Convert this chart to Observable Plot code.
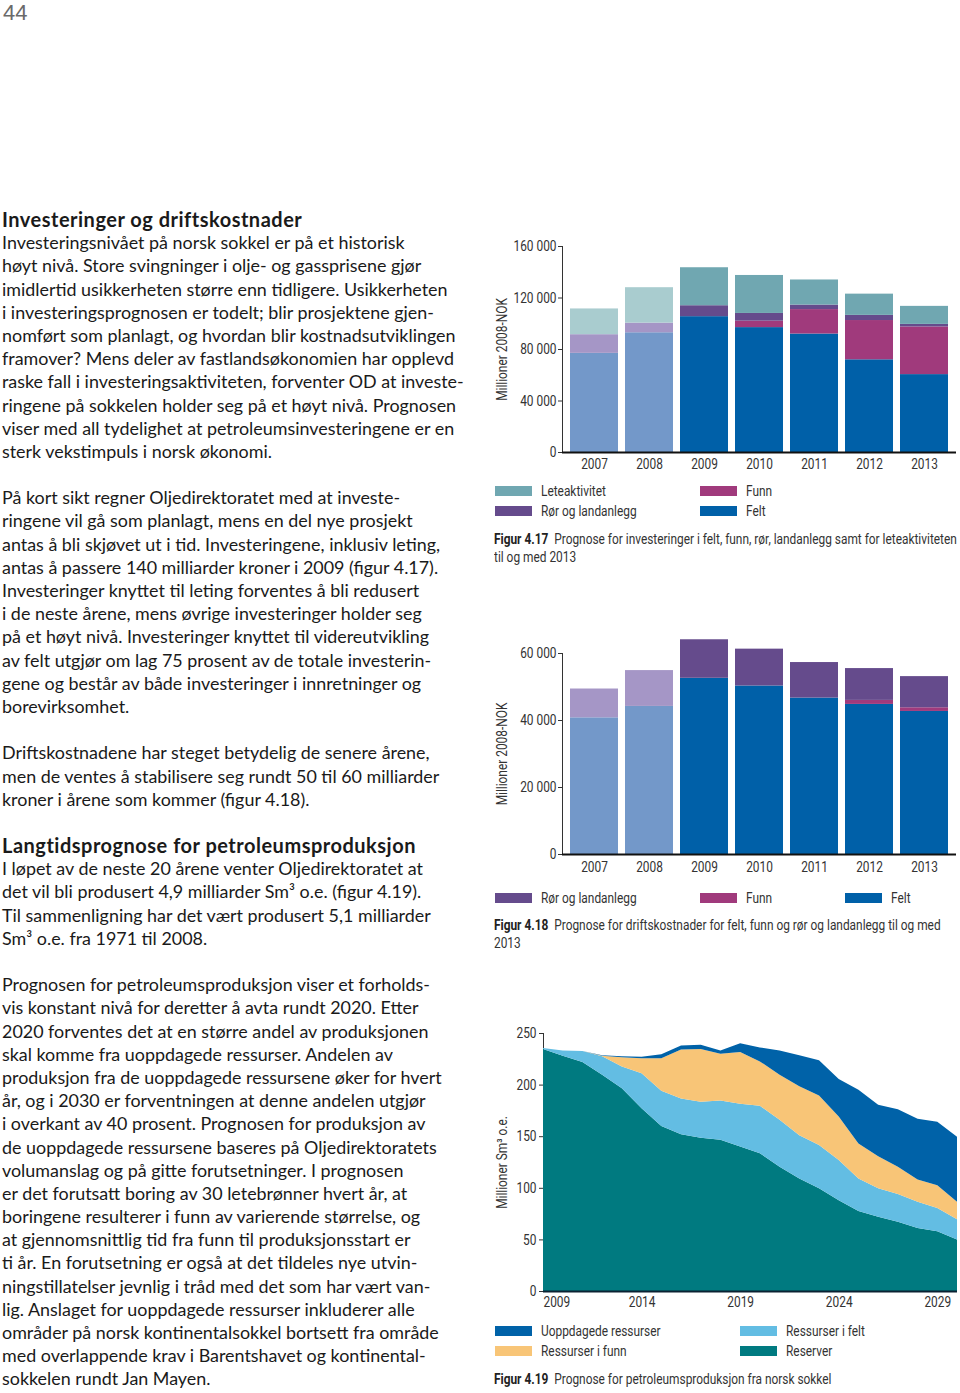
<!DOCTYPE html>
<html>
<head>
<meta charset="utf-8">
<script src="https://cdn.jsdelivr.net/npm/d3@7"></script>
<script src="https://cdn.jsdelivr.net/npm/@observablehq/plot@0.6"></script>
<style>
  html, body { margin: 0; padding: 0; background: #fff; }
  #page { position: relative; width: 960px; height: 1393px; overflow: hidden; background: #fff; }
  .pagenum { position: absolute; left: 3px; top: 0px; font-family: "Liberation Sans", sans-serif; font-size: 22px; line-height: normal; color: #6a6a6a; }
  #bodytext { position: absolute; left: 2px; top: 208px; font-family: Lato, sans-serif; font-size: 17.9px; line-height: 23.18px; color: #1a1a1a; white-space: pre; }
  #bodytext .h { font-weight: 700; font-size: 20px; letter-spacing: 0.5px; }
  .cond { font-family: Roboto, sans-serif; }
  .chart { position: absolute; left: 490px; }
  .sq { display: inline-block; transform: scaleX(0.82); transform-origin: 0 0; white-space: pre; }
  .legend { position: absolute; left: 0; top: 0; font-size: 14.5px; color: #333; }
  .sw { position: absolute; width: 37px; height: 10px; }
  .lt { position: absolute; white-space: nowrap; line-height: 16px; }
  .capline { position: absolute; left: 494px; font-size: 14.5px; line-height: 18px; color: #333; white-space: pre; }
  .capline b { color: #222; }
</style>
</head>
<body>
<div id="page">
  <div class="pagenum">44</div>
  <div id="bodytext"></div>
  <div id="c1" class="chart cond" style="top:230px"></div>
  <div id="c2" class="chart cond" style="top:630px"></div>
  <div id="c3" class="chart cond" style="top:1020px"></div>
  <div id="leg1" class="legend cond"></div>
  <div class="capline cond" style="top:531px"><span class="sq"><b>Figur 4.17</b>  Prognose for investeringer i felt, funn, rør, landanlegg samt for leteaktiviteten</span></div>
  <div class="capline cond" style="top:549px"><span class="sq">til og med 2013</span></div>
  <div id="leg2" class="legend cond"></div>
  <div class="capline cond" style="top:917px"><span class="sq"><b>Figur 4.18</b>  Prognose for driftskostnader for felt, funn og rør og landanlegg til og med</span></div>
  <div class="capline cond" style="top:935px"><span class="sq">2013</span></div>
  <div id="leg3" class="legend cond"></div>
  <div class="capline cond" style="top:1371px"><span class="sq"><b>Figur 4.19</b>  Prognose for petroleumsproduksjon fra norsk sokkel</span></div>
</div>
<script>
// ---------- Data ----------
const years = ["2007", "2008", "2009", "2010", "2011", "2012", "2013"];
const historicYears = ["2007", "2008"];

// Figur 4.17 – investeringer (millioner 2008-NOK)
const invFelt = [77000, 93000, 105500, 97000, 92000, 72000, 60500];
const invFunn = [0, 0, 0, 5000, 19000, 30500, 37000];
const invRor  = [14500, 7500, 8500, 6000, 3500, 4000, 2000];
const invLete = [20000, 27500, 29500, 29500, 19500, 16500, 14000];
const invTicks = [0, 40000, 80000, 120000, 160000];

// Figur 4.18 – driftskostnader (millioner 2008-NOK)
const driftFelt = [40800, 44200, 52600, 50300, 46700, 44800, 42700];
const driftFunn = [0, 0, 0, 0, 0, 1200, 1100];
const driftRor  = [8600, 10700, 11500, 11000, 10600, 9500, 9300];
const driftTicks = [0, 20000, 40000, 60000];

// Figur 4.19 – petroleumsproduksjon (millioner Sm3 o.e.)
const prodYears = [2009, 2010, 2011, 2012, 2013, 2014, 2015, 2016, 2017, 2018, 2019,
                   2020, 2021, 2022, 2023, 2024, 2025, 2026, 2027, 2028, 2029, 2030];
const reserver       = [234.5, 228, 222, 209.5, 196.5, 177, 160, 152, 148.5, 146.5, 140,
                        133.5, 120.5, 109, 99.5, 88, 77.5, 72, 67, 61, 58, 50];
const ressurserFelt  = [1, 5, 10.5, 18, 21, 34, 34, 34.5, 35, 38, 41.5,
                        46, 45.5, 42, 42, 39, 31.5, 27.5, 27, 25.5, 22.5, 19.5];
const ressurserFunn  = [0, 0, 0, 0.5, 9, 14.5, 31.5, 47.5, 51, 45.5, 50,
                        43, 43.5, 47.5, 48, 42, 34, 31, 26.5, 21.5, 22, 17];
const uoppdagede     = [0, 0, 0, 0.5, 1, 1.5, 4, 4, 4, 3, 8.5,
                        13.5, 23.5, 30, 34, 36.5, 52, 50, 55.5, 59, 61.5, 63];
const prodTicks = [0, 50, 100, 150, 200, 250];
const prodXTicks = [2009, 2014, 2019, 2024, 2029];

// ---------- Colours ----------
const colFelt = "#0060a8", colFeltHist = "#7398c9";
const colRor = "#654b8c", colRorHist = "#a596c6";
const colFunn = "#a03a7c";
const colLete = "#70a7b1", colLeteHist = "#a9cccf";
const colReserver = "#007a80", colResFelt = "#63bde3", colResFunn = "#f8c577", colUopp = "#0062a8";

const fmt = d => d3.format(",")(d).replace(/,/g, " ");

// ---------- Body text ----------
const textLines = [
  ["h", "Investeringer og driftskostnader"],
  ["", "Investeringsnivået på norsk sokkel er på et historisk"],
  ["", "høyt nivå. Store svingninger i olje- og gassprisene gjør"],
  ["", "imidlertid usikkerheten større enn tidligere. Usikkerheten"],
  ["", "i investeringsprognosen er todelt; blir prosjektene gjen-"],
  ["", "nomført som planlagt, og hvordan blir kostnadsutviklingen"],
  ["", "framover? Mens deler av fastlandsøkonomien har opplevd"],
  ["", "raske fall i investeringsaktiviteten, forventer OD at investe-"],
  ["", "ringene på sokkelen holder seg på et høyt nivå. Prognosen"],
  ["", "viser med all tydelighet at petroleumsinvesteringene er en"],
  ["", "sterk vekstimpuls i norsk økonomi."],
  ["", ""],
  ["", "På kort sikt regner Oljedirektoratet med at investe-"],
  ["", "ringene vil gå som planlagt, mens en del nye prosjekt"],
  ["", "antas å bli skjøvet ut i tid. Investeringene, inklusiv leting,"],
  ["", "antas å passere 140 milliarder kroner i 2009 (figur 4.17)."],
  ["", "Investeringer knyttet til leting forventes å bli redusert"],
  ["", "i de neste årene, mens øvrige investeringer holder seg"],
  ["", "på et høyt nivå. Investeringer knyttet til videreutvikling"],
  ["", "av felt utgjør om lag 75 prosent av de totale investerin-"],
  ["", "gene og består av både investeringer i innretninger og"],
  ["", "borevirksomhet."],
  ["", ""],
  ["", "Driftskostnadene har steget betydelig de senere årene,"],
  ["", "men de ventes å stabilisere seg rundt 50 til 60 milliarder"],
  ["", "kroner i årene som kommer (figur 4.18)."],
  ["", ""],
  ["h", "Langtidsprognose for petroleumsproduksjon"],
  ["", "I løpet av de neste 20 årene venter Oljedirektoratet at"],
  ["", "det vil bli produsert 4,9 milliarder Sm³ o.e. (figur 4.19)."],
  ["", "Til sammenligning har det vært produsert 5,1 milliarder"],
  ["", "Sm³ o.e. fra 1971 til 2008."],
  ["", ""],
  ["", "Prognosen for petroleumsproduksjon viser et forholds-"],
  ["", "vis konstant nivå for deretter å avta rundt 2020. Etter"],
  ["", "2020 forventes det at en større andel av produksjonen"],
  ["", "skal komme fra uoppdagede ressurser. Andelen av"],
  ["", "produksjon fra de uoppdagede ressursene øker for hvert"],
  ["", "år, og i 2030 er forventningen at denne andelen utgjør"],
  ["", "i overkant av 40 prosent. Prognosen for produksjon av"],
  ["", "de uoppdagede ressursene baseres på Oljedirektoratets"],
  ["", "volumanslag og på gitte forutsetninger. I prognosen"],
  ["", "er det forutsatt boring av 30 letebrønner hvert år, at"],
  ["", "boringene resulterer i funn av varierende størrelse, og"],
  ["", "at gjennomsnittlig tid fra funn til produksjonsstart er"],
  ["", "ti år. En forutsetning er også at det tildeles nye utvin-"],
  ["", "ningstillatelser jevnlig i tråd med det som har vært van-"],
  ["", "lig. Anslaget for uoppdagede ressurser inkluderer alle"],
  ["", "områder på norsk kontinentalsokkel bortsett fra område"],
  ["", "med overlappende krav i Barentshavet og kontinental-"],
  ["", "sokkelen rundt Jan Mayen."]
];
const bt = document.getElementById("bodytext");
for (const [cls, t] of textLines) {
  const d = document.createElement("div");
  if (cls) d.className = cls;
  d.textContent = t === "" ? "\u00a0" : t;
  bt.appendChild(d);
}

// ---------- Helpers ----------
const svgStyle = {fontFamily: "Roboto, sans-serif", fontSize: "14.5px", color: "#333", background: "transparent", overflow: "visible"};
const SQUEEZE = 0.82;

function squeezeSvgText(container) {
  container.querySelectorAll("svg text").forEach(t => {
    const L = t.getComputedTextLength();
    if (L > 0) {
      t.setAttribute("textLength", (L * SQUEEZE).toFixed(2));
      t.setAttribute("lengthAdjust", "spacingAndGlyphs");
    }
  });
}

function mount(id, svg) {
  const el = document.getElementById(id);
  el.appendChild(svg);
  squeezeSvgText(el);
}

function tidy(seriesList) {
  const rows = [];
  years.forEach((yr, i) => {
    for (const s of seriesList) {
      const hist = historicYears.includes(yr) && s.histKey;
      rows.push({year: yr, series: s.name, key: hist ? s.histKey : s.name, value: s.values[i]});
    }
  });
  return rows;
}

function legend(el, items) {
  for (const it of items) {
    const sw = document.createElement("div");
    sw.className = "sw";
    sw.style.left = it.x + "px"; sw.style.top = (it.y - 5) + "px"; sw.style.background = it.color;
    el.appendChild(sw);
    const t = document.createElement("div");
    t.className = "lt";
    t.style.left = (it.x + 46) + "px"; t.style.top = (it.y - 7) + "px";
    const s = document.createElement("span");
    s.className = "sq";
    s.textContent = it.label;
    t.appendChild(s);
    el.appendChild(t);
  }
}

// ---------- Figur 4.17 ----------
const invRows = tidy([
  {name: "Felt", histKey: "Felt (historisk)", values: invFelt},
  {name: "Funn", histKey: null, values: invFunn},
  {name: "Rør og landanlegg", histKey: "Rør og landanlegg (historisk)", values: invRor},
  {name: "Leteaktivitet", histKey: "Leteaktivitet (historisk)", values: invLete}
]);
const barKeys = ["Felt", "Felt (historisk)", "Funn", "Rør og landanlegg", "Rør og landanlegg (historisk)", "Leteaktivitet", "Leteaktivitet (historisk)"];
const barCols = [colFelt, colFeltHist, colFunn, colRor, colRorHist, colLete, colLeteHist];

mount("c1", Plot.plot({
  width: 470, height: 250,
  marginLeft: 72, marginRight: 4, marginTop: 16, marginBottom: 28,
  style: svgStyle,
  x: {domain: years, padding: 0.13, label: null, tickSize: 0, tickPadding: 6},
  y: {domain: [0, 160000], ticks: invTicks, tickFormat: fmt, tickSize: 4, tickPadding: 2,
      label: "Millioner 2008-NOK", labelAnchor: "center", labelArrow: "none", labelOffset: 66, line: true},
  color: {type: "ordinal", domain: barKeys, range: barCols},
  marks: [
    Plot.barY(invRows, {x: "year", y: "value", fill: "key"}),
    Plot.ruleY([0], {stroke: "#111", strokeWidth: 2})
  ]
}));

legend(document.getElementById("leg1"), [
  {x: 495, y: 491, color: colLete, label: "Leteaktivitet"},
  {x: 495, y: 511, color: colRor, label: "Rør og landanlegg"},
  {x: 700, y: 491, color: colFunn, label: "Funn"},
  {x: 700, y: 511, color: colFelt, label: "Felt"}
]);

// ---------- Figur 4.18 ----------
const driftRows = tidy([
  {name: "Felt", histKey: "Felt (historisk)", values: driftFelt},
  {name: "Funn", histKey: null, values: driftFunn},
  {name: "Rør og landanlegg", histKey: "Rør og landanlegg (historisk)", values: driftRor}
]);

mount("c2", Plot.plot({
  width: 470, height: 252,
  marginLeft: 72, marginRight: 4, marginTop: 23, marginBottom: 28,
  style: svgStyle,
  x: {domain: years, padding: 0.13, label: null, tickSize: 0, tickPadding: 7},
  y: {domain: [0, 60000], ticks: driftTicks, tickFormat: fmt, tickSize: 4, tickPadding: 2,
      label: "Millioner 2008-NOK", labelAnchor: "center", labelArrow: "none", labelOffset: 66, line: true},
  color: {type: "ordinal", domain: barKeys, range: barCols},
  marks: [
    Plot.barY(driftRows, {x: "year", y: "value", fill: "key"}),
    Plot.ruleY([0], {stroke: "#111", strokeWidth: 2})
  ]
}));

legend(document.getElementById("leg2"), [
  {x: 495, y: 898, color: colRor, label: "Rør og landanlegg"},
  {x: 700, y: 898, color: colFunn, label: "Funn"},
  {x: 845, y: 898, color: colFelt, label: "Felt"}
]);

// ---------- Figur 4.19 ----------
const prodSeries = [
  {name: "Reserver", values: reserver},
  {name: "Ressurser i felt", values: ressurserFelt},
  {name: "Ressurser i funn", values: ressurserFunn},
  {name: "Uoppdagede ressurser", values: uoppdagede}
];
const prodRows = [];
prodYears.forEach((yr, i) => {
  for (const s of prodSeries) prodRows.push({year: yr, series: s.name, value: s.values[i]});
});

mount("c3", Plot.plot({
  width: 470, height: 292,
  marginLeft: 53, marginRight: 3, marginTop: 13, marginBottom: 21,
  style: svgStyle,
  x: {domain: [2009, 2030], label: null},
  y: {domain: [0, 250], ticks: prodTicks, tickSize: 4, tickPadding: 3,
      label: "Millioner Sm³ o.e.", labelAnchor: "center", labelArrow: "none", labelOffset: 47, line: true},
  color: {type: "ordinal", domain: prodSeries.map(s => s.name), range: [colReserver, colResFelt, colResFunn, colUopp]},
  marks: [
    Plot.areaY(prodRows, {x: "year", y: "value", fill: "series", z: "series"}),
    Plot.ruleY([0], {stroke: "#0b2233", strokeWidth: 2}),
    Plot.axisX(prodXTicks.slice(0, 1), {tickSize: 0, tickPadding: 5, tickFormat: d => String(d), textAnchor: "start", label: null}),
    Plot.axisX(prodXTicks.slice(1), {tickSize: 0, tickPadding: 5, tickFormat: d => String(d), label: null})
  ]
}));

legend(document.getElementById("leg3"), [
  {x: 495, y: 1331, color: colUopp, label: "Uoppdagede ressurser"},
  {x: 495, y: 1351, color: colResFunn, label: "Ressurser i funn"},
  {x: 740, y: 1331, color: colResFelt, label: "Ressurser i felt"},
  {x: 740, y: 1351, color: colReserver, label: "Reserver"}
]);
</script>
</body>
</html>
